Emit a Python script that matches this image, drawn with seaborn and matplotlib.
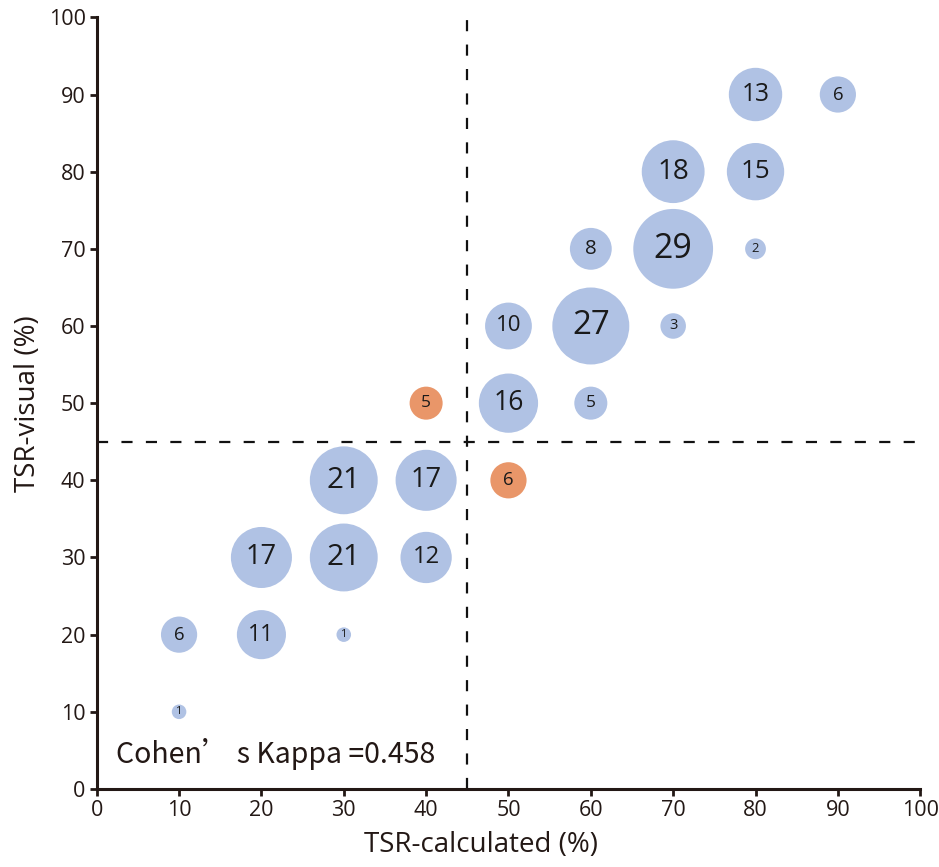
import numpy as np
import pandas as pd
import matplotlib
matplotlib.use('Agg')
import matplotlib.pyplot as plt
import seaborn as sns

# TSR values (%) and number of cases at each position
tsr_calc = [10, 10, 20, 30, 20, 30, 40, 30, 40, 50, 40, 50, 60, 50, 60, 70, 60, 70, 80, 70, 80, 80, 90]
tsr_visual = [10, 20, 20, 20, 30, 30, 30, 40, 40, 40, 50, 50, 50, 60, 60, 60, 70, 70, 70, 80, 80, 90, 90]
counts = [1, 6, 11, 1, 17, 21, 12, 21, 17, 6, 5, 16, 5, 10, 27, 3, 8, 29, 2, 18, 15, 13, 6]
group = ['agree'] * 9 + ['disagree', 'disagree'] + ['agree'] * 12

df = pd.DataFrame({'calc': tsr_calc, 'visual': tsr_visual, 'n': counts, 'group': group})

sns.set_style('white')
plt.rcParams['font.family'] = ['Open Sans', 'Noto Sans CJK SC', 'DejaVu Sans']

fig = plt.figure(figsize=(9.39, 8.67), dpi=100)
ax = fig.add_axes([0.103, 0.090, 0.877, 0.890])

sns.scatterplot(data=df, x='calc', y='visual', size='n', sizes=(110, 3300), size_norm=(1, 29),
                hue='group', palette={'agree': '#B0C2E4', 'disagree': '#E99669'},
                linewidth=0, alpha=1, legend=False, ax=ax, zorder=3)

for x, y, n in zip(tsr_calc, tsr_visual, counts):
    ax.text(x, y, str(n), ha='center', va='center', fontsize=4 + 3.8 * np.sqrt(n),
            color='#1a1a1a', zorder=4)

ax.axvline(45, color='#111111', ls=(0, (5, 6)), lw=1.6, zorder=2)
ax.axhline(45, color='#111111', ls=(0, (5, 6)), lw=1.6, zorder=2)

ax.text(2.3, 4.5, 'Cohen’ s Kappa =0.458', fontsize=20.5, color='#231815', va='center',
        family=['Noto Sans CJK SC', 'DejaVu Sans'])

ax.set_xlim(0, 100)
ax.set_ylim(0, 100)
ax.set_xticks(range(0, 101, 10))
ax.set_yticks(range(0, 101, 10))
ax.set_xlabel('TSR-calculated (%)', fontsize=20, color='#231815')
ax.set_ylabel('TSR-visual (%)', fontsize=20, color='#231815')
ax.xaxis.set_label_coords(0.467, -0.055)
ax.yaxis.set_label_coords(-0.066, 0.5)
ax.tick_params(axis='both', direction='out', length=5, width=2, labelsize=15.5,
               colors='#231815', bottom=True, left=True, pad=3)
sns.despine(ax=ax)
for s in ['left', 'bottom']:
    ax.spines[s].set_linewidth(2.2)
    ax.spines[s].set_color('#231815')

fig.savefig('out.png', dpi=100)
